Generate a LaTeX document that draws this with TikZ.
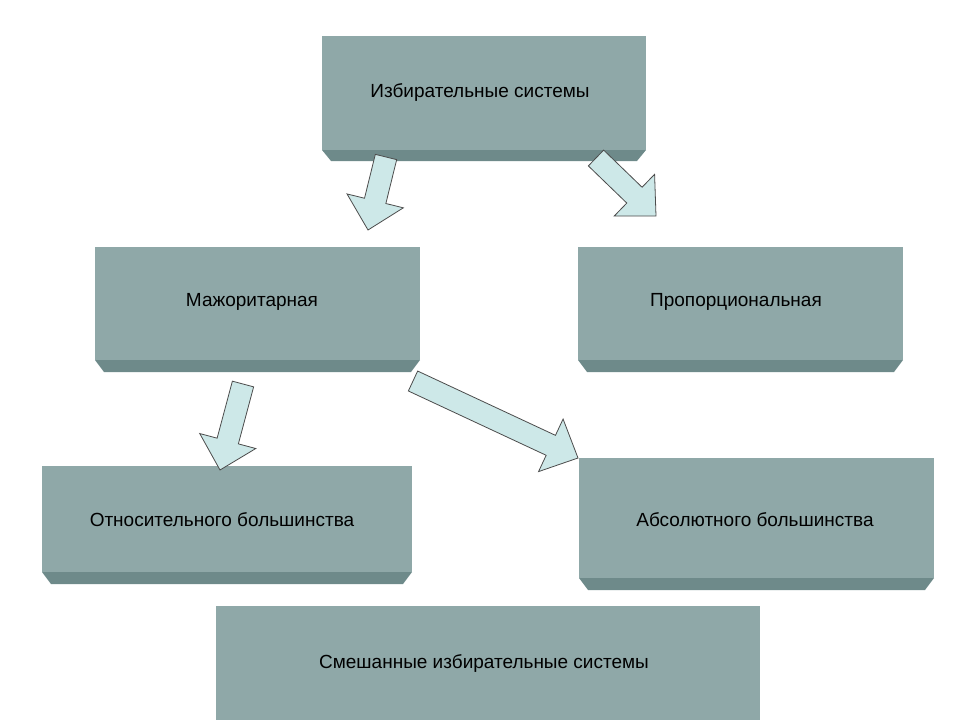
\documentclass[tikz,border=0pt]{standalone}
\usepackage{fontspec}
\setmainfont{Liberation Sans}
\usetikzlibrary{calc}
\definecolor{face}{HTML}{8FA8A8}
\definecolor{bevel}{HTML}{6E8A8A}
\definecolor{arrfill}{HTML}{CDE8E8}
\tikzset{
  lbl/.style={font=\fontsize{19}{22}\selectfont, text=black},
  barrow/.style={fill=arrfill, draw=black!70, line width=0.8pt, line join=miter}
}
\newcommand{\mybox}[6]{% name, x1, y1(top), x2, y2(face bottom), y3(bevel bottom)
  \fill[bevel] (#2,#5) -- (#4,#5) -- (#4-9,#6) -- (#2+9,#6) -- cycle;
  \fill[face] (#2,#3) rectangle (#4,#5);
  \coordinate (#1) at ({(#2+#4)/2},{(#3+#5)/2});
}
\newcommand{\blockarrow}[2]{% start, tip
  \coordinate (ha) at ($(#1)!1!(#2)$);
  \coordinate (hb) at ($(#2)!30pt!(#1)$);
  \draw[barrow] ($(#1)!11pt!90:(#2)$) -- ($(hb)!11pt!-90:(#1)$) -- ($(hb)!29pt!-90:(#1)$)
     -- (#2) -- ($(hb)!29pt!90:(#1)$) -- ($(hb)!11pt!90:(#1)$) -- ($(#1)!11pt!-90:(#2)$) -- cycle;
}
\begin{document}
\begin{tikzpicture}[x=1pt,y=-1pt]
\useasboundingbox[fill=white] (0,0) rectangle (960,720);
\mybox{b1}{322}{36}{646}{150}{161}
\mybox{b2}{95}{247}{420}{360}{372}
\mybox{b3}{578}{247}{903}{360}{372}
\mybox{b4}{42}{466}{412}{572}{584}
\mybox{b5}{579}{458}{934}{578}{590}
\fill[face] (216,606) rectangle (760,720);
\coordinate (b6) at (488,663);
\node[lbl] (t1) at (480,93) {Избирательные системы};
\node[lbl] (t2) at (252,302) {Мажоритарная};
\node[lbl] (t3) at (736,302) {Пропорциональная};
\node[lbl] (t4) at (222,520) {Относительного большинства};
\node[lbl] (t5) at (755,520) {Абсолютного большинства};
\node[lbl] (t6) at (484,663) {Смешанные избирательные системы};
\coordinate (a1s) at (386,157); \coordinate (a1e) at (368,230);
\coordinate (a2s) at (596,158); \coordinate (a2e) at (656,216);
\coordinate (a3s) at (243,384); \coordinate (a3e) at (220,470);
\coordinate (a4s) at (413,381); \coordinate (a4e) at (578,458);
\blockarrow{a1s}{a1e}
\blockarrow{a2s}{a2e}
\blockarrow{a3s}{a3e}
\blockarrow{a4s}{a4e}
\end{tikzpicture}
\end{document}
